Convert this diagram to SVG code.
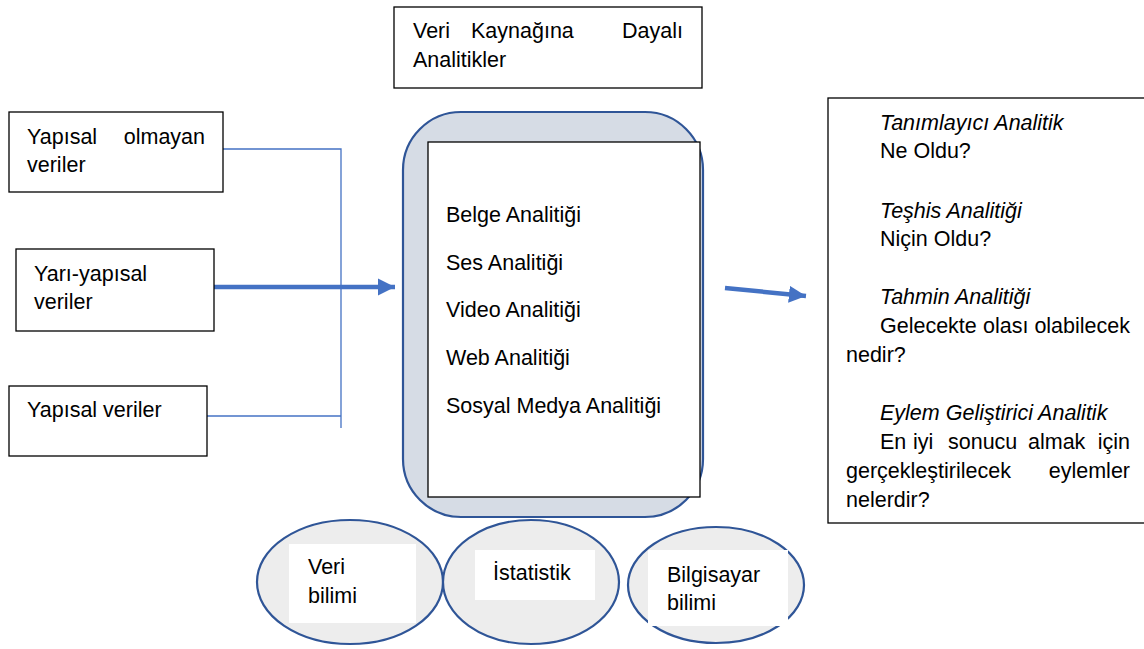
<svg xmlns="http://www.w3.org/2000/svg" width="1144" height="649" viewBox="0 0 1144 649">
<defs>
<style>
text{font-family:"Liberation Sans",Arial,sans-serif;font-size:21.5px;fill:#000}
.it{font-style:italic}
.box{fill:#fff;stroke:#000;stroke-width:1.3}
.ell{fill:#ededed;stroke:#2f5597;stroke-width:2.2}
.lbl{fill:#fff;stroke:none}
.thin{stroke:#4472c4;stroke-width:1.3;fill:none}
.thick{stroke:#4472c4;stroke-width:4.5;fill:none}
</style>
<marker id="ah" viewBox="0 0 10 10" refX="10" refY="5" markerWidth="3.8" markerHeight="3.8" orient="auto" markerUnits="strokeWidth">
<path d="M0,0L10,5L0,10z" fill="#4472c4"/>
</marker>
</defs>
<rect width="1144" height="649" fill="#fff"/>

<g id="connectors">
<polyline class="thin" points="223,149 341,149 341,428"/>
<line class="thin" x1="207" y1="416" x2="341" y2="416"/>
<line class="thick" x1="214" y1="287" x2="395" y2="287" marker-end="url(#ah)"/>
<line class="thick" x1="725" y1="288" x2="806" y2="296" marker-end="url(#ah)"/>
</g>

<g id="node-yapisal-olmayan">
<rect class="box" x="9" y="112" width="214" height="80"/>
<text x="27" y="144">Yapısal</text>
<text x="205" y="144" text-anchor="end">olmayan</text>
<text x="27" y="172">veriler</text>
</g>

<g id="node-yari-yapisal">
<rect class="box" x="16" y="249" width="198" height="82"/>
<text x="34" y="281">Yarı-yapısal</text>
<text x="34" y="309">veriler</text>
</g>

<g id="node-yapisal">
<rect class="box" x="9" y="386" width="198" height="70"/>
<text x="27" y="417">Yapısal veriler</text>
</g>

<g id="node-baslik">
<rect class="box" x="394" y="7" width="308" height="81"/>
<text x="413" y="38">Veri</text>
<text x="471" y="38">Kaynağına</text>
<text x="683" y="38" text-anchor="end">Dayalı</text>
<text x="413" y="67">Analitikler</text>
</g>

<g id="node-analitikler">
<rect x="403" y="112" width="300" height="405" rx="58" ry="58" fill="#d6dce5" stroke="#2f5597" stroke-width="2.2"/>
<rect class="box" x="428" y="142" width="272" height="355"/>
<text x="446" y="222">Belge Analitiği</text>
<text x="446" y="270">Ses Analitiği</text>
<text x="446" y="317">Video Analitiği</text>
<text x="446" y="365">Web Analitiği</text>
<text x="446" y="413">Sosyal Medya Analitiği</text>
</g>

<g id="node-turler">
<rect class="box" x="828" y="98" width="320" height="425"/>
<text class="it" x="880" y="130">Tanımlayıcı Analitik</text>
<text x="880" y="158">Ne Oldu?</text>
<text class="it" x="880" y="218">Teşhis Analitiği</text>
<text x="880" y="246">Niçin Oldu?</text>
<text class="it" x="880" y="304">Tahmin Analitiği</text>
<text x="880" y="333">Gelecekte</text>
<text x="983" y="333">olası</text>
<text x="1130" y="333" text-anchor="end">olabilecek</text>
<text x="846" y="362">nedir?</text>
<text class="it" x="880" y="420">Eylem Geliştirici Analitik</text>
<text x="880" y="449">En</text>
<text x="913" y="449">iyi</text>
<text x="948" y="449">sonucu</text>
<text x="1028" y="449">almak</text>
<text x="1130" y="449" text-anchor="end">için</text>
<text x="846" y="478">gerçekleştirilecek</text>
<text x="1130" y="478" text-anchor="end">eylemler</text>
<text x="846" y="507">nelerdir?</text>
</g>

<g id="node-veri-bilimi">
<ellipse class="ell" cx="350" cy="582" rx="93" ry="62"/>
<rect class="lbl" x="289" y="544" width="127" height="79"/>
<text x="308" y="574">Veri</text>
<text x="308" y="603">bilimi</text>
</g>

<g id="node-istatistik">
<ellipse class="ell" cx="531" cy="582" rx="88" ry="62"/>
<rect class="lbl" x="475" y="550" width="120" height="50"/>
<text x="493" y="580">İstatistik</text>
</g>

<g id="node-bilgisayar-bilimi">
<ellipse class="ell" cx="716" cy="585" rx="88" ry="58"/>
<rect class="lbl" x="648" y="550" width="140" height="76"/>
<text x="667" y="582">Bilgisayar</text>
<text x="667" y="610">bilimi</text>
</g>
</svg>
